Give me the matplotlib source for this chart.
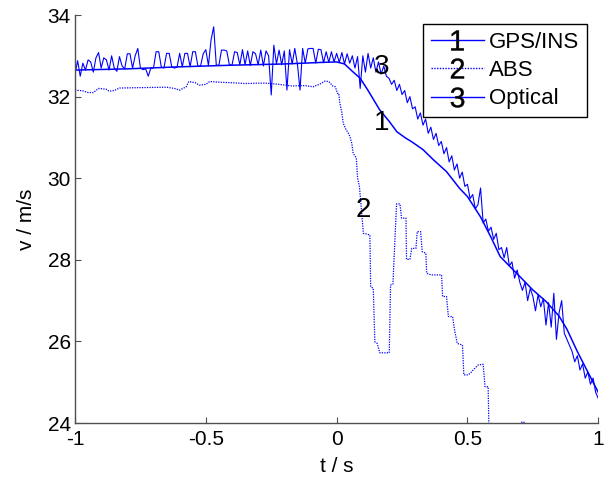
import numpy as np
import matplotlib
matplotlib.use('Agg')
import matplotlib.pyplot as plt
from matplotlib.lines import Line2D

plt.rcParams['font.family'] = ['Liberation Sans', 'DejaVu Sans']

# GPS/INS reference speed (smooth)
gps_t = [-1.0, -0.8, -0.6, -0.4, -0.2, -0.05, 0.0, 0.03, 0.06, 0.09, 0.12, 0.165,
         0.2, 0.23, 0.26, 0.29, 0.33, 0.37, 0.42, 0.47, 0.50, 0.55, 0.59, 0.625,
         0.66, 0.70, 0.75, 0.80, 0.85, 0.88, 0.92, 0.96, 1.0]
gps_v = [32.65, 32.68, 32.73, 32.77, 32.80, 32.84, 32.85, 32.80, 32.62, 32.45, 32.15, 31.67,
         31.40, 31.14, 31.00, 30.88, 30.70, 30.45, 30.16, 29.75, 29.55, 29.05, 28.55, 28.08,
         27.85, 27.59, 27.26, 26.98, 26.62, 26.30, 25.75, 25.25, 24.75]

# ABS wheel speed (stepped)
abs_t = [-1.0, -0.97, -0.95, -0.93, -0.91, -0.88, -0.87, -0.85, -0.83, -0.75, -0.65, -0.62,
         -0.60, -0.575, -0.565, -0.54, -0.525, -0.50, -0.485, -0.44, -0.40, -0.35, -0.30, -0.27,
         -0.22, -0.17, -0.12, -0.09, -0.06, -0.045, -0.03, -0.015, -0.005, 0.003, 0.008, 0.012,
         0.02, 0.025, 0.035, 0.045, 0.051, 0.058, 0.063, 0.075, 0.08, 0.087, 0.095, 0.102,
         0.127, 0.13, 0.14, 0.146, 0.155, 0.165, 0.201, 0.206, 0.215, 0.229, 0.242, 0.248,
         0.265, 0.267, 0.28, 0.287, 0.303, 0.308, 0.321, 0.327, 0.341, 0.344, 0.36, 0.401,
         0.405, 0.42, 0.427, 0.443, 0.45, 0.461, 0.481, 0.486, 0.503, 0.515, 0.522, 0.54,
         0.56, 0.567, 0.579, 0.583, 0.68, 0.707, 0.716, 0.72, 1.0]
abs_v = [32.16, 32.14, 32.10, 32.10, 32.20, 32.18, 32.13, 32.15, 32.21, 32.22, 32.23, 32.20,
         32.16, 32.24, 32.37, 32.34, 32.28, 32.30, 32.37, 32.35, 32.34, 32.32, 32.33, 32.33,
         32.30, 32.26, 32.27, 32.24, 32.32, 32.38, 32.37, 32.26, 32.24, 32.08, 32.08, 31.85,
         31.60, 31.35, 31.20, 31.10, 31.02, 30.85, 30.61, 30.50, 30.00, 29.80, 29.20, 28.65,
         28.61, 27.34, 27.30, 25.99, 25.95, 25.72, 25.72, 27.38, 27.40, 29.37, 29.37, 29.02,
         29.02, 28.01, 28.01, 28.28, 28.28, 28.69, 28.69, 28.20, 28.16, 27.67, 27.63, 27.63,
         27.10, 27.10, 26.61, 26.61, 26.30, 25.95, 25.91, 25.18, 25.18, 25.25, 25.30, 25.42,
         25.44, 24.89, 24.89, 23.50, 23.20, 24.02, 24.02, 23.40, 23.00]

# Optical sensor speed, one sample every 0.01 s from -1 to 1
opt_v = [32.55, 32.88, 32.50, 32.82, 32.65, 32.90, 32.85, 32.60, 32.95, 33.08,
         32.70, 32.95, 32.90, 32.65, 33.00, 32.70, 32.62, 32.98, 32.75, 32.68,
         33.05, 33.05, 32.70, 33.00, 33.18, 32.70, 32.66, 32.68, 32.50, 32.70,
         32.70, 33.10, 33.10, 32.72, 32.70, 33.06, 33.06, 32.72, 32.70, 32.72,
         33.06, 32.73, 33.06, 33.06, 32.73, 33.10, 33.10, 32.74, 32.75, 33.05,
         33.15, 32.76, 33.39, 33.71, 32.77, 32.77, 33.14, 33.14, 33.12, 32.78,
         32.77, 33.10, 33.08, 32.78, 33.15, 32.78, 33.12, 32.76, 33.10, 33.05,
         32.78, 33.14, 32.75, 33.12, 33.00, 32.04, 33.26, 32.80, 33.14, 32.78,
         33.12, 32.16, 33.15, 32.80, 33.18, 32.80, 32.16, 33.18, 32.82, 33.17,
         33.18, 33.18, 32.82, 33.16, 33.15, 32.83, 33.10, 32.84, 33.10, 32.85,
         33.06, 32.84, 33.08, 32.80, 33.05, 32.82, 33.00, 32.70, 32.98, 32.20,
         33.00, 32.60, 33.06, 32.70, 32.95, 32.60, 32.85, 32.55, 32.75, 32.50,
         32.45, 32.30, 32.40, 32.15, 32.30, 32.05, 32.15, 31.85, 32.00, 31.70,
         31.75, 31.45, 31.60, 31.30, 31.45, 31.10, 31.25, 30.95, 31.10, 30.80,
         30.90, 30.60, 30.75, 30.40, 30.55, 30.20, 30.35, 30.00, 30.15, 29.80,
         29.85, 29.50, 29.60, 29.25, 29.35, 29.76, 28.90, 29.00, 28.70, 28.80,
         28.50, 28.65, 28.25, 28.30, 28.05, 28.30, 27.85, 27.95, 27.55, 27.75,
         27.45, 27.25, 27.45, 27.00, 27.30, 27.10, 26.75, 27.15, 26.85, 27.05,
         26.40, 26.95, 26.35, 27.18, 26.05, 26.70, 27.00, 26.20, 26.05, 25.90,
         25.75, 25.50, 25.65, 25.30, 25.45, 25.10, 25.25, 24.95, 25.10, 24.75,
         24.60]
opt_t = np.linspace(-1, 1, len(opt_v))

labels = ['GPS/INS', 'ABS', 'Optical']

fig = plt.figure(figsize=(6.08, 4.78), dpi=100)
ax = fig.add_axes([75 / 608, 1 - 423 / 478, (598.3 - 75) / 608, 408 / 478])

blue = (0, 0, 1)
ax.plot(gps_t, gps_v, color=blue, lw=1.1)
ax.plot(abs_t, abs_v, color=blue, lw=0.9, ls=(0, (1, 1)))
ax.plot(opt_t, opt_v, color=blue, lw=0.8)

# number tags on the curves
ax.text(0.17, 31.43, '1', fontsize=20, ha='center', va='center_baseline')
ax.text(0.10, 29.29, '2', fontsize=20, ha='center', va='center_baseline')
ax.text(0.173, 32.81, '3', fontsize=20, ha='center', va='center_baseline')

ax.set_xlim(-1, 1)
ax.set_ylim(24, 34)
ax.set_xticks([-1, -0.5, 0, 0.5, 1])
ax.set_xticklabels(['-1', '-0.5', '0', '0.5', '1'])
ax.set_yticks([24, 26, 28, 30, 32, 34])
for side in ['top', 'right']:
    ax.spines[side].set_visible(False)
for side in ['left', 'bottom']:
    ax.spines[side].set_color('#505050')
    ax.spines[side].set_linewidth(1.0)
ax.tick_params(direction='in', length=4, width=0.8, color='#505050',
               labelsize=15, pad=3)
ax.tick_params(axis='x', pad=5)
ax.set_xlabel('t / s', fontsize=15, labelpad=6)
ax.set_ylabel('v / m/s', fontsize=15, labelpad=8)

styles = ['-', (0, (1, 1)), '-']
handles = [Line2D([], [], color=blue, lw=1, ls=s, marker='$\\mathregular{%d}$' % (i + 1),
                  markersize=14.4, mfc='k', mec='k', mew=0.3)
           for i, s in enumerate(styles)]
leg = ax.legend(handles, labels, loc='upper right', bbox_to_anchor=(0.978, 0.978),
                borderaxespad=0, fancybox=False, edgecolor='k', framealpha=1,
                fontsize=16, handlelength=2.4, handletextpad=0.22, labelspacing=0.33,
                borderpad=0.35, numpoints=1)
leg.get_frame().set_linewidth(1.0)

fig.savefig('out.png', dpi=100)
